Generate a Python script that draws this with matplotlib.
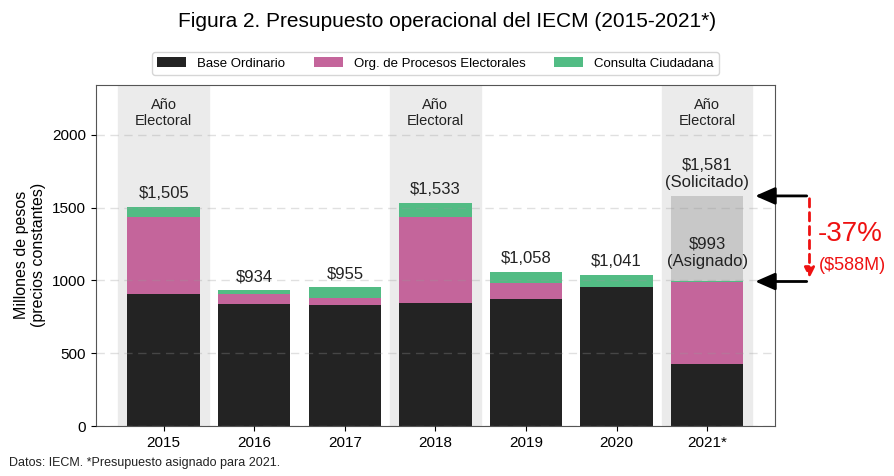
import numpy as np
import matplotlib.pyplot as plt

plt.rcParams['font.family'] = ['Liberation Sans', 'DejaVu Sans']

years = ["2015", "2016", "2017", "2018", "2019", "2020", "2021*"]
base = [907, 838, 829, 843, 873, 953, 424]
org = [529, 69, 48, 591, 112, 0, 566]
consulta = [69, 27, 78, 99, 73, 88, 3]
totales = ["$1,505", "$934", "$955", "$1,533", "$1,058", "$1,041", None]
electoral = [0, 3, 6]
solicitado = 1581
asignado = 993

c_base = "#232323"
c_org = "#c4659b"
c_cons = "#52bc84"

fig, ax = plt.subplots(figsize=(8.95, 4.76), dpi=100)
fig.subplots_adjust(left=0.107, right=0.866, top=0.822, bottom=0.105)

x = np.arange(len(years))
base = np.array(base)
org = np.array(org)
consulta = np.array(consulta)

for i in electoral:
    ax.axvspan(i - 0.5, i + 0.5, color="#ebebeb", zorder=0)
    ax.text(i, 2150, "Año\nElectoral", ha="center", va="center", fontsize=10.5, color="#222222")

# barra gris de lo solicitado en 2021
ax.bar(x[6], solicitado - asignado, 0.8, bottom=asignado, color="#c8c8c8", zorder=1)

ax.bar(x, base, 0.8, color=c_base, label="Base Ordinario", zorder=1)
ax.bar(x, org, 0.8, bottom=base, color=c_org, label="Org. de Procesos Electorales", zorder=1)
ax.bar(x, consulta, 0.8, bottom=base + org, color=c_cons, label="Consulta Ciudadana", zorder=1)

tot = base + org + consulta
for i, t in enumerate(totales):
    if t is not None:
        ax.text(x[i], tot[i] + 40, t, ha="center", va="bottom", fontsize=12, color="#222222")

ax.text(x[6], solicitado + 150, "$1,581\n(Solicitado)", ha="center", va="center", fontsize=12, color="#222222")
ax.text(x[6], asignado + 200, "$993\n(Asignado)", ha="center", va="center", fontsize=12, color="#222222")

# flechas de diferencia
for yv in [solicitado, asignado]:
    ax.annotate("", xy=(6.5, yv), xytext=(7.13, yv),
                arrowprops=dict(arrowstyle="-|>,head_width=0.35,head_length=0.8", color="black",
                                lw=2, mutation_scale=15),
                annotation_clip=False)
ax.annotate("", xy=(7.13, asignado + 5), xytext=(7.13, solicitado),
            arrowprops=dict(arrowstyle="-|>", color="#ee1111", lw=2, ls=(0, (3, 2)), mutation_scale=15),
            annotation_clip=False)
ax.text(7.22, 1320, "-37%", color="#ee1111", fontsize=20, ha="left", va="center", clip_on=False)
ax.text(7.23, 1105, "($588M)", color="#ee1111", fontsize=13, ha="left", va="center", clip_on=False)

ax.set_xlim(-0.75, 6.75)
ax.set_ylim(0, 2345)
ax.set_xticks(x)
ax.set_xticklabels(years, fontsize=11)
ax.set_yticks([0, 500, 1000, 1500, 2000])
ax.tick_params(axis="y", labelsize=11)
ax.set_ylabel("Millones de pesos\n(precios constantes)", fontsize=11.5)
ax.yaxis.grid(True, ls=(0, (6, 4)), color="#999999", alpha=0.3, lw=1)
ax.set_axisbelow(False)
for s in ax.spines.values():
    s.set_color("#555555")

ax.legend(loc="upper center", bbox_to_anchor=(0.5, 1.115), ncol=3, fontsize=9.5,
          frameon=True, edgecolor="#cccccc", handlelength=2.2, columnspacing=2.2)

fig.text(0.5, 0.955, "Figura 2. Presupuesto operacional del IECM (2015-2021*)",
         ha="center", va="center", fontsize=15)
fig.text(0.01, 0.02, "Datos: IECM. *Presupuesto asignado para 2021.", fontsize=9, color="#222222")

fig.savefig("out.png")
